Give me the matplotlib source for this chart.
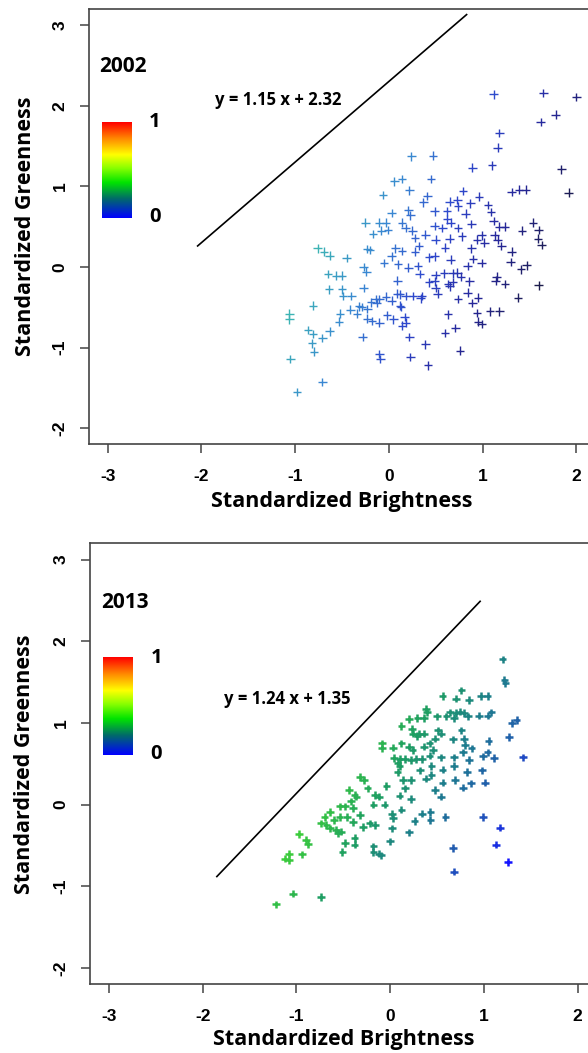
import numpy as np
import matplotlib.pyplot as plt
from matplotlib.colors import LinearSegmentedColormap

# standardized brightness / greenness, 2002 panel
pts_2002 = np.array([
    (1.12, 2.14), (1.65, 2.16), (2.00, 2.11), (1.78, 1.89), (1.62, 1.80), (1.18, 1.66), (1.16, 1.48),
    (0.24, 1.37), (0.47, 1.38), (0.89, 1.23), (1.10, 1.26), (1.84, 1.21), (0.06, 1.06), (0.14, 1.09),
    (0.45, 1.09), (0.22, 0.95), (-0.06, 0.89), (0.41, 0.88), (0.79, 0.94), (0.96, 0.87), (1.31, 0.93),
    (1.39, 0.96), (1.46, 0.96), (1.92, 0.92), (0.37, 0.80), (0.65, 0.81), (0.73, 0.83), (0.74, 0.75),
    (0.87, 0.79), (1.06, 0.77), (1.09, 0.68), (0.03, 0.67), (0.21, 0.70), (0.23, 0.64), (0.49, 0.69),
    (0.62, 0.69), (0.82, 0.66), (1.12, 0.57), (-0.25, 0.55), (-0.10, 0.55), (-0.03, 0.55), (0.14, 0.55),
    (0.62, 0.59), (0.66, 0.55), (0.88, 0.53), (0.49, 0.51), (1.18, 0.50), (1.24, 0.50), (1.54, 0.55),
    (1.60, 0.46), (-0.17, 0.41), (-0.08, 0.45), (-0.01, 0.46), (0.18, 0.48), (0.25, 0.45), (0.57, 0.48),
    (0.74, 0.48), (0.28, 0.36), (0.39, 0.40), (0.50, 0.34), (0.65, 0.35), (0.78, 0.38), (0.99, 0.39),
    (0.94, 0.34), (1.02, 0.30), (1.13, 0.39), (1.16, 0.34), (1.42, 0.45), (1.59, 0.35), (1.63, 0.27),
    (1.20, 0.26), (1.31, 0.19), (-0.76, 0.23), (-0.69, 0.19), (-0.63, 0.14), (-0.45, 0.11), (-0.23, 0.22),
    (-0.20, 0.21), (0.07, 0.23), (0.14, 0.20), (0.28, 0.19), (0.32, 0.26), (0.60, 0.24), (0.88, 0.23),
    (0.03, 0.13), (0.49, 0.13), (0.43, 0.12), (0.66, 0.09), (0.90, 0.10), (-0.05, 0.05), (0.10, 0.03),
    (0.21, -0.01), (0.31, 0.01), (0.84, 0.01), (0.99, 0.05), (1.30, 0.06), (1.41, -0.03), (1.47, 0.02),
    (-0.27, 0.00), (-0.65, -0.09), (-0.56, -0.11), (-0.50, -0.11), (-0.24, -0.06), (0.33, -0.09),
    (0.50, -0.10), (0.59, -0.08), (0.68, -0.08), (0.73, -0.07), (0.77, -0.12), (1.15, -0.12), (0.09, -0.17),
    (0.43, -0.19), (0.49, -0.18), (0.63, -0.21), (0.68, -0.19), (0.86, -0.18), (1.14, -0.17), (1.24, -0.21),
    (1.60, -0.23), (-0.64, -0.28), (-0.50, -0.28), (-0.27, -0.26), (0.50, -0.26), (0.52, -0.33),
    (0.65, -0.24), (-0.49, -0.36), (-0.40, -0.36), (-0.14, -0.40), (-0.10, -0.40), (-0.03, -0.37),
    (0.09, -0.33), (0.12, -0.34), (0.18, -0.36), (0.26, -0.36), (0.35, -0.36), (0.34, -0.39), (0.74, -0.40),
    (0.84, -0.32), (0.95, -0.38), (1.38, -0.38), (-0.81, -0.48), (-0.41, -0.53), (-0.32, -0.49),
    (-0.29, -0.50), (-0.19, -0.44), (-0.13, -0.45), (0.03, -0.42), (0.12, -0.48), (0.13, -0.50),
    (0.89, -0.45), (1.08, -0.55), (1.18, -0.55), (-0.34, -0.58), (-0.52, -0.58), (-1.06, -0.58),
    (-1.06, -0.65), (-0.53, -0.68), (-0.23, -0.52), (-0.02, -0.60), (0.05, -0.65), (0.17, -0.62),
    (0.18, -0.69), (0.14, -0.73), (-0.23, -0.64), (-0.18, -0.67), (-0.10, -0.69), (0.63, -0.59),
    (0.94, -0.57), (0.95, -0.68), (0.99, -0.71), (-0.63, -0.80), (-0.86, -0.78), (-0.81, -0.83),
    (-0.82, -0.95), (-0.80, -1.05), (-0.71, -0.88), (-0.28, -0.87), (0.22, -0.87), (0.60, -0.82),
    (0.71, -0.76), (0.39, -0.96), (-0.10, -1.08), (-0.09, -1.14), (0.23, -1.12), (0.42, -1.22),
    (0.76, -1.04), (-1.05, -1.14), (-0.71, -1.43), (-0.98, -1.55),
])

# 2013 panel
pts_2013 = np.array([
    (1.20, 1.78), (1.22, 1.53), (1.23, 1.49), (0.76, 1.40), (0.56, 1.33), (0.97, 1.33), (1.04, 1.33),
    (0.70, 1.30), (0.84, 1.28), (0.38, 1.17), (0.39, 1.13), (0.20, 1.05), (0.29, 1.06), (0.36, 1.06),
    (0.50, 1.08), (0.64, 1.13), (0.70, 1.12), (0.74, 1.14), (0.79, 1.12), (0.83, 1.08), (0.95, 1.09),
    (1.04, 1.09), (1.08, 1.13), (1.30, 1.00), (1.35, 1.04), (0.60, 1.08), (0.68, 1.06), (0.12, 0.96),
    (0.23, 0.93), (0.31, 0.87), (0.29, 0.84), (0.36, 0.87), (0.51, 0.91), (0.54, 0.87), (0.67, 0.80),
    (0.79, 0.81), (0.80, 0.73), (1.05, 0.78), (1.27, 0.83), (-0.09, 0.75), (-0.09, 0.69), (0.03, 0.70),
    (0.12, 0.75), (0.20, 0.71), (0.24, 0.67), (0.36, 0.71), (0.46, 0.67), (0.78, 0.64), (0.87, 0.69),
    (1.04, 0.64), (0.04, 0.57), (0.10, 0.56), (0.16, 0.56), (0.22, 0.55), (0.28, 0.56), (0.34, 0.56),
    (0.42, 0.60), (0.54, 0.58), (0.68, 0.58), (0.84, 0.55), (0.99, 0.59), (1.11, 0.57), (1.42, 0.58),
    (0.44, 0.47), (0.56, 0.43), (0.68, 0.47), (0.82, 0.40), (0.98, 0.42), (0.10, 0.47), (0.08, 0.40),
    (0.14, 0.30), (0.22, 0.30), (0.38, 0.32), (0.56, 0.27), (0.69, 0.30), (0.78, 0.21), (0.86, 0.26),
    (1.01, 0.27), (-0.04, 0.23), (0.16, 0.20), (0.48, 0.18), (0.54, 0.10), (0.10, 0.11), (0.22, 0.07),
    (-0.32, 0.34), (-0.28, 0.30), (-0.44, 0.18), (-0.38, 0.12), (-0.24, 0.20), (-0.16, 0.12), (-0.12, 0.10),
    (-0.06, 0.00), (-0.18, 0.00), (-0.54, -0.02), (-0.48, -0.02), (-0.40, -0.04), (-0.64, -0.09),
    (-0.70, -0.15), (-0.74, -0.23), (-0.68, -0.25), (-0.60, -0.19), (-0.54, -0.15), (-0.58, -0.31),
    (-0.56, -0.35), (-0.40, -0.21), (-0.29, -0.27), (-0.22, -0.23), (-0.16, -0.25), (0.02, -0.11),
    (0.03, -0.16), (0.12, -0.06), (0.02, -0.29), (0.20, -0.34), (0.26, -0.20), (0.34, -0.11), (0.43, -0.09),
    (0.43, -0.19), (0.59, -0.15), (0.99, -0.15), (0.00, -0.45), (-0.48, -0.47), (-0.38, -0.49),
    (-0.38, -0.41), (-0.51, -0.58), (-0.18, -0.51), (-0.18, -0.58), (-0.12, -0.60), (-0.10, -0.62),
    (0.67, -0.53), (0.68, -0.82), (1.13, -0.49), (1.17, -0.28), (1.26, -0.70), (-0.97, -0.36),
    (-0.90, -0.43), (-0.88, -0.48), (-0.94, -0.61), (-1.08, -0.60), (-1.12, -0.66), (-1.08, -0.68),
    (-1.22, -1.22), (-1.04, -1.09), (-0.74, -1.13), (-0.46, -0.15), (-0.32, -0.13), (-0.42, 0.04),
    (-0.36, 0.10), (-0.52, -0.33), (-0.64, -0.29), (0.32, 0.42), (0.44, 0.36), (0.24, 0.87), (0.76, 0.91),
    (0.48, 0.81), (0.42, 0.75), (0.08, 0.51),
])

years = ["2002", "2013"]
equations = ["y = 1.15 x + 2.32", "y = 1.24 x + 1.35"]
eq_pos = [(-1.85, 2.07), (-1.77, 1.29)]
line_x = [(-2.04, 0.83), (-1.85, 0.96)]
line_y = [(0.26, 3.13), (-0.88, 2.49)]
xticks = [-3, -2, -1, 0, 1, 2]
yticks = [-2, -1, 0, 1, 2, 3]

bar_cmap = LinearSegmentedColormap.from_list("bar", [
    (0.0, "#0000ff"), (0.2, "#006a6a"), (0.37, "#00e400"), (0.52, "#88ff00"),
    (0.66, "#ffff00"), (0.83, "#ff8800"), (1.0, "#ff0000")])
pt_cmaps = [
    LinearSegmentedColormap.from_list("p02", ["#1c1c4c", "#26279a", "#2e47cc", "#3a88d2", "#3db4b4"]),
    LinearSegmentedColormap.from_list("p13", ["#1414ff", "#2258b4", "#1e7e8c", "#1f9f62", "#3ccc3c"]),
]
pt_style = [dict(s=38, linewidths=1.0), dict(s=30, linewidths=1.8)]
y_weight = [0.35, 0.5]

fig = plt.figure(figsize=(5.88, 10.53), dpi=100)
axes = [fig.add_axes([0.1512, 0.5781, 0.8607, 0.4134]),
        fig.add_axes([0.1537, 0.0652, 0.8604, 0.4188])]
lab_y = [(-0.126, -0.132), (-0.130, -0.126)]

bold = dict(family="Open Sans", weight="bold")

for i, ax in enumerate(axes):
    pts = [pts_2002, pts_2013][i]
    b, g = pts[:, 0], pts[:, 1]
    idx = -b + y_weight[i] * g
    ax.scatter(b, g, c=idx, cmap=pt_cmaps[i], marker="+", **pt_style[i], zorder=3)
    ax.plot(line_x[i], line_y[i], color="black", lw=1.2)

    grad = np.linspace(0, 1, 256).reshape(-1, 1)
    ax.imshow(grad, cmap=bar_cmap, origin="lower", aspect="auto",
              extent=[-3.06, -2.74, 0.61, 1.80], zorder=2)
    ax.text(-2.56, 1.80, "1", fontsize=14.5, va="center", ha="left", **bold)
    ax.text(-2.56, 0.62, "0", fontsize=14.5, va="center", ha="left", **bold)
    ax.text(-3.09, 2.48, years[i], fontsize=15, va="center", ha="left", **bold)
    ax.text(eq_pos[i][0], eq_pos[i][1], equations[i], fontsize=12, va="center", ha="left", **bold)

    ax.set_xlim(-3.2, 2.2)
    ax.set_ylim(-2.2, 3.2)
    ax.set_xticks(xticks)
    ax.set_yticks(yticks)
    ax.set_xticklabels([str(t) for t in xticks])
    ax.set_yticklabels([str(t) for t in yticks], rotation=90, va="center")
    for lbl in ax.get_xticklabels() + ax.get_yticklabels():
        lbl.set_fontfamily("Liberation Sans")
        lbl.set_fontweight("bold")
        lbl.set_fontsize(12.5)
    ax.tick_params(axis="x", length=6.5, width=1.1, color="#444444", pad=11)
    ax.tick_params(axis="y", length=6.5, width=1.1, color="#444444", pad=9)
    for sp in ax.spines.values():
        sp.set_color("#444444")
        sp.set_linewidth(1.2)

    ax.set_xlabel("Standardized Brightness", fontsize=15.5, va="center", **bold)
    ax.set_ylabel("Standardized Greenness", fontsize=15.5, va="center", **bold)
    ax.xaxis.set_label_coords(0.5, lab_y[i][1])
    ax.yaxis.set_label_coords(lab_y[i][0], 0.5)

fig.savefig("out.png", dpi=100)
